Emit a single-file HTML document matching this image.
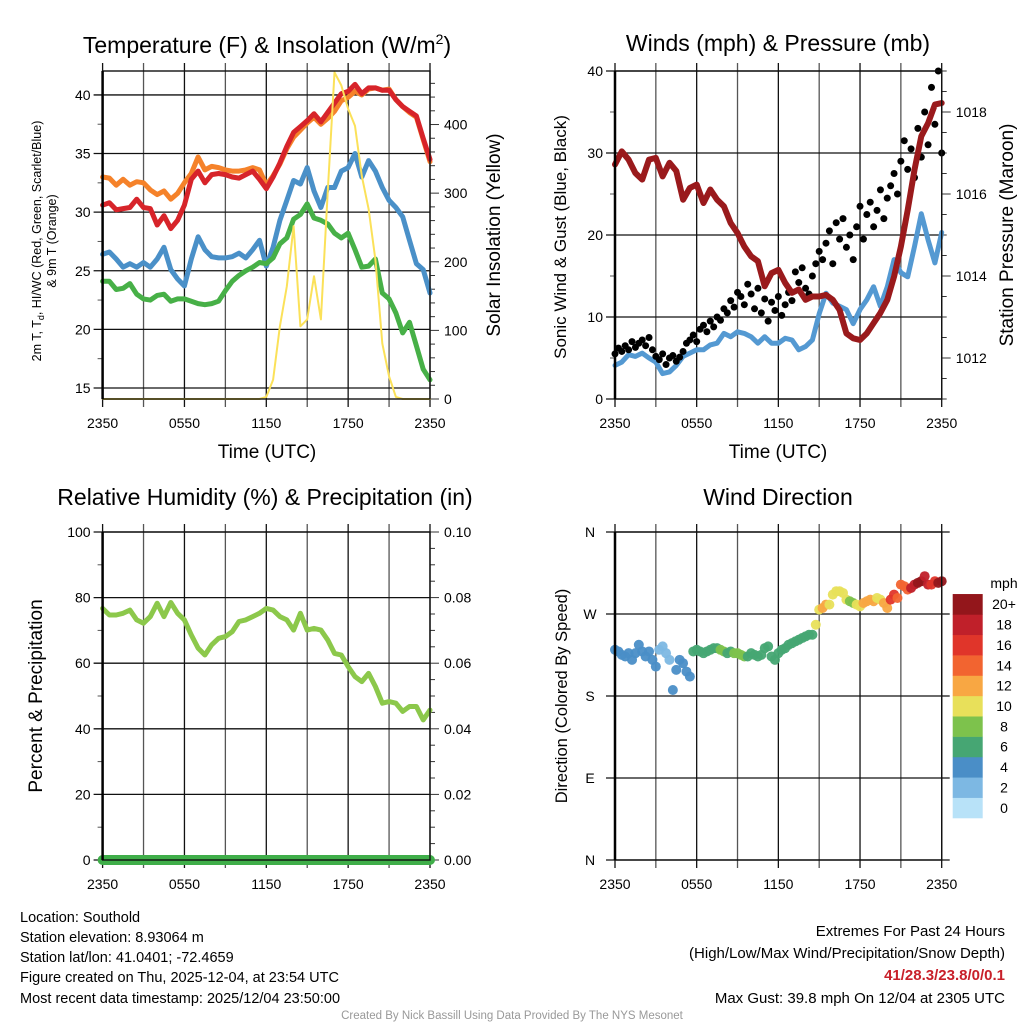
<!DOCTYPE html>
<html><head><meta charset="utf-8"><title>Mesonet Southold</title>
<style>
html,body{margin:0;padding:0;background:#fff;}
svg{display:block;font-family:"Liberation Sans",Arial,sans-serif;}
</style></head>
<body>
<svg id="chart" width="1024" height="1024" viewBox="0 0 1024 1024">
<g id="grids"></g>
<g id="marks"></g>
<g id="axes"></g>
<g font-size="23" text-anchor="middle" fill="#000">
<text x="267" y="53">Temperature (F) &amp; Insolation (W/m<tspan font-size="14" dy="-9">2</tspan><tspan dy="9">)</tspan></text>
<text x="778" y="51">Winds (mph) &amp; Pressure (mb)</text>
<text x="265" y="505">Relative Humidity (%) &amp; Precipitation (in)</text>
<text x="778" y="505">Wind Direction</text>
</g>
<g text-anchor="middle" fill="#000">
<text x="267" y="458" font-size="19">Time (UTC)</text>
<text x="778" y="458" font-size="19">Time (UTC)</text>
<text transform="translate(41,241) rotate(-90)" font-size="12.5">2m T, T<tspan font-size="9" dy="3">d</tspan><tspan dy="-3">, HI/WC (Red, Green, Scarlet/Blue)</tspan></text>
<text transform="translate(56,241) rotate(-90)" font-size="12.5">&amp; 9m T (Orange)</text>
<text transform="translate(500,235) rotate(-90)" font-size="19">Solar Insolation (Yellow)</text>
<text transform="translate(566,237) rotate(-90)" font-size="17">Sonic Wind &amp; Gust (Blue, Black)</text>
<text transform="translate(1013,235) rotate(-90)" font-size="19">Station Pressure (Maroon)</text>
<text transform="translate(42,696) rotate(-90)" font-size="19">Percent &amp; Precipitation</text>
<text transform="translate(567,696) rotate(-90)" font-size="16.5">Direction (Colored By Speed)</text>
</g>
<g id="legend"><text x="1004" y="588" font-size="14" text-anchor="middle">mph</text></g>
<g font-size="14.5" fill="#000">
<text x="20" y="922">Location: Southold</text>
<text x="20" y="942">Station elevation: 8.93064 m</text>
<text x="20" y="962">Station lat/lon: 41.0401; -72.4659</text>
<text x="20" y="982">Figure created on Thu, 2025-12-04, at 23:54 UTC</text>
<text x="20" y="1003">Most recent data timestamp: 2025/12/04 23:50:00</text>
</g>
<g font-size="15" text-anchor="end" fill="#000">
<text x="1005" y="936">Extremes For Past 24 Hours</text>
<text x="1005" y="958">(High/Low/Max Wind/Precipitation/Snow Depth)</text>
<text x="1005" y="980" fill="#c8202a" font-weight="bold">41/28.3/23.8/0/0.1</text>
<text x="1005" y="1003">Max Gust: 39.8 mph On 12/04 at 2305 UTC</text>
</g>
<text x="512" y="1019" font-size="11.5" fill="#999" text-anchor="middle">Created By Nick Bassill Using Data Provided By The NYS Mesonet</text>
</svg>
<script>
const timeLabels=["2350","0550","1150","1750","2350"];
const tempT=[30.6,30.8,30.2,30.3,30.4,31.1,30.4,30.3,28.9,29.7,28.6,29.3,30.6,32.8,33.5,32.5,33.2,33.3,33.2,33.0,32.9,33.2,33.5,32.8,32.0,33.0,34.2,35.6,36.8,37.3,37.8,38.4,37.7,38.5,39.3,40.1,40.3,40.9,40.1,40.6,40.6,40.4,40.4,39.6,39.0,38.6,38.2,36.3,34.5];
const temp9m=[33.0,32.9,32.3,32.8,32.3,32.6,32.5,31.9,31.5,31.8,31.1,31.6,32.5,33.3,34.7,33.6,33.9,33.8,33.6,33.5,33.5,33.6,33.8,33.6,32.3,33.1,34.1,35.4,36.4,37.0,37.6,38.1,37.5,38.0,38.6,39.5,39.8,40.3,40.0,40.5,40.6,40.4,40.5,39.6,39.0,38.5,38.1,36.2,34.3];
const tempWC=[26.4,26.6,26.0,25.3,25.6,25.3,25.7,25.3,26.0,27.0,25.1,24.3,23.7,26.0,27.9,26.8,26.2,26.1,26.1,26.2,26.5,26.1,26.8,27.6,25.4,27.0,29.3,31.0,32.7,32.4,33.8,31.8,30.4,32.1,32.1,33.5,33.8,35.0,33.0,34.4,33.5,32.1,31.0,30.4,29.6,27.6,25.6,25.1,23.1];
const tempTd=[24.1,24.1,23.4,23.5,23.9,23.0,22.6,22.5,22.9,23.0,22.4,22.6,22.6,22.4,22.2,22.1,22.2,22.4,23.3,24.1,24.6,25.0,25.3,25.7,25.6,26.1,27.3,27.8,29.4,29.8,30.7,29.5,29.3,29.0,28.2,27.8,28.2,26.8,25.3,25.4,26.0,23.1,22.6,21.4,19.7,20.6,18.6,16.6,15.7];
const solar=[0,0,0,0,0,0,0,0,0,0,0,0,0,0,0,0,0,0,0,0,0,0,0,0,3,28,106,164,252,106,116,179,116,301,476,457,423,398,325,277,203,81,33,3,0,0,0,0,0];
const pressure=[1016.72,1017.04,1016.84,1016.51,1016.35,1016.84,1016.88,1016.43,1016.76,1016.56,1015.86,1016.15,1016.23,1015.78,1016.11,1015.86,1015.70,1015.29,1015.05,1014.72,1014.48,1014.36,1013.75,1014.07,1014.15,1013.83,1013.59,1013.67,1013.42,1013.50,1013.50,1013.54,1013.42,1013.17,1012.60,1012.48,1012.44,1012.60,1012.85,1013.10,1013.42,1013.99,1014.72,1015.61,1016.59,1017.41,1017.73,1018.18,1018.22];
const wind=[4.1,4.5,5.4,5.2,5.6,5.0,4.5,3.1,3.3,4.1,5.2,5.6,6.0,6.0,6.6,6.8,8.0,7.6,8.2,8.0,7.6,6.8,7.6,6.8,6.8,7.4,7.2,6.0,6.4,7.2,10.4,12.9,11.7,11.3,10.9,9.2,10.9,12.1,13.7,11.3,13.7,17.0,15.4,14.9,18.6,22.6,19.4,16.6,20.3];
const gust=[5.5,6.2,5.8,6.5,6.0,7.0,6.3,6.8,7.2,6.5,7.5,6.0,5.2,4.8,5.5,4.2,5.0,5.3,4.6,5.1,5.8,6.8,7.2,7.8,7.0,8.5,9.0,8.2,9.5,8.8,10.0,9.6,11.0,10.5,12.0,11.2,13.0,12.5,11.5,14.0,12.8,11.0,13.5,10.5,12.2,9.5,11.8,10.8,12.5,10.2,11.5,13.0,12.0,15.5,14.2,16.0,13.5,12.8,15.0,16.5,18.0,17.0,19.0,20.5,16.5,21.5,19.5,22.0,18.5,20.0,17.0,21.0,23.5,19.5,22.5,24.0,21.0,23.0,25.5,22.0,24.5,26.0,27.5,25.0,29.0,31.5,28.0,30.5,27.0,33.0,29.5,35.0,31.0,38.0,33.5,40.0,30.0];
const rh=[76.7,74.7,74.7,75.2,76.2,73.2,72.2,74.2,78.3,74.2,78.5,75.2,73.2,68.6,64.6,62.5,65.6,67.6,68.1,69.6,72.7,73.2,74.2,75.2,76.7,76.2,74.2,73.2,70.1,75.2,70.1,70.6,70.1,67.1,63.0,62.5,59.0,55.9,54.4,56.9,52.9,47.8,48.3,47.8,45.3,46.8,46.8,42.7,45.7];
const precip=[0,0,0,0,0,0,0,0,0,0,0,0,0,0,0,0,0,0,0,0,0,0,0,0,0,0,0,0,0,0,0,0,0,0,0,0,0,0,0,0,0,0,0,0,0,0,0,0,0];
const direction=[230.7,228.9,225.2,223.4,227.0,219.7,227.0,236.2,228.9,223.4,228.9,219.7,212.3,230.7,234.4,227.0,219.7,186.6,208.7,219.7,216.0,206.8,201.3,228.9,230.7,228.9,227.0,228.9,230.7,232.5,232.5,230.7,228.9,227.0,228.9,227.0,227.0,225.2,223.4,223.4,227.0,225.2,223.4,225.2,232.5,234.4,223.4,219.7,227.0,230.7,232.5,236.2,238.0,239.9,241.7,243.6,245.4,247.2,247.2,258.2,274.8,276.6,280.3,280.3,291.3,295.0,295.0,293.1,285.8,284.0,282.1,280.3,278.4,282.1,284.0,285.8,284.0,287.6,285.8,282.1,276.6,285.8,291.3,287.6,302.3,300.5,296.8,298.6,302.3,304.2,306.0,311.5,302.3,302.3,306.0,304.2,306.0];
const speedLabels=["0","2","4","6","8","10","12","14","16","18","20+"];
const speedColors=["#b8e2f8","#7db8e3","#4a8ec7","#46a673","#7dc24c","#e8e05a","#f8a743","#f26430","#e0352a","#c0202a","#93161b"];

const NS="http://www.w3.org/2000/svg";
function mk(tag,attrs,parent){const e=document.createElementNS(NS,tag);for(const k in attrs)e.setAttribute(k,attrs[k]);parent.appendChild(e);return e;}
const G=document.getElementById('grids'),M=document.getElementById('marks'),A=document.getElementById('axes'),L=document.getElementById('legend');
function lin(d0,d1,r0,r1){return v=>r0+(v-d0)/(d1-d0)*(r1-r0);}

const panels=[
 {x0:102.6,x1:430,y0:71,y1:399,name:'temp'},
 {x0:615,x1:941.7,y0:71,y1:399,name:'wind'},
 {x0:102.6,x1:430,y0:532,y1:860,name:'rh'},
 {x0:615,x1:941.7,y0:532,y1:860,name:'dir'}];

function isMajor(v,ax){const q=(v-ax.mbase)/ax.major;return Math.abs(q-Math.round(q))<1e-6;}
function frame(p,left,right){
  const g=mk('g',{},G);
  
  
  for(let k=0;k<=8;k++){const x=p.x0+(p.x1-p.x0)*k/8;
    const l=mk('line',{x1:x,x2:x,y1:p.y0-8,y2:p.y1+8,stroke:k%2?'#555':'#111','stroke-width':1.3},g);
    }
  const ly=lin(left.min,left.max,p.y1,p.y0);
  for(let v=left.tmin;v<=left.max+1e-9;v+=left.minor){const y=ly(v);const major=isMajor(v,left);
    if(major){const l=mk('line',{x1:p.x0-9,x2:right?p.x1:p.x1+8,y1:y,y2:y,stroke:'#111','stroke-width':1.3},g);}
    else{mk('line',{x1:p.x0-5,x2:p.x0,y1:y,y2:y,stroke:'#555','stroke-width':1},g);}
    if(major){const t=mk('text',{x:left.lx||p.x0-12,y:y+5,'font-size':14,'text-anchor':left.anchor||'end'},A);t.textContent=left.fmt(v);}
  }
  if(right){const ry=lin(right.min,right.max,p.y1,p.y0);
    for(let v=right.tmin;v<=right.max+1e-9;v+=right.minor){const y=ry(v);const major=isMajor(v,right);
      mk('line',{x1:p.x1,x2:p.x1+(major?9:5),y1:y,y2:y,stroke:'#333','stroke-width':1},g);
      if(major){const t=mk('text',{x:p.x1+14,y:y+5,'font-size':14},A);t.textContent=right.fmt(v);}}}
  mk('rect',{x:p.x0,y:p.y0,width:p.x1-p.x0,height:p.y1-p.y0,fill:'none',stroke:'#111','stroke-width':1.4},A);
  mk('line',{x1:p.x0,x2:p.x0,y1:p.y0,y2:p.y1,stroke:'#000','stroke-width':2.5},A);
  timeLabels.forEach((s,k)=>{const t=mk('text',{x:p.x0+(p.x1-p.x0)*k/4,y:p.y1+29,'font-size':14,'text-anchor':'middle'},A);t.textContent=s;
    });
}
function xs(p,n){return i=>p.x0+(p.x1-p.x0)*i/(n-1);}
function line(arr,p,sy,color,w,name){const sx=xs(p,arr.length);
  const d=arr.map((v,i)=>(i?'L':'M')+sx(i).toFixed(1)+','+sy(v).toFixed(1)).join('');
  const e=mk('path',{d:d,fill:'none',stroke:color,'stroke-width':w,'stroke-linejoin':'round','stroke-linecap':'round'},M);
  }

// Temperature panel
const P1=panels[0];
frame(P1,{min:14.06,max:42.04,tmin:15,mbase:15,major:5,minor:2.5,fmt:v=>String(v)},{min:0,max:478,tmin:0,mbase:0,major:100,minor:20,fmt:v=>String(v)});
const ty=lin(14.06,42.04,P1.y1,P1.y0), sy=lin(0,478,P1.y1,P1.y0);
line(temp9m,P1,ty,'#f5822a',5,'temp-9m-line');
line(tempT,P1,ty,'#d7242a',5,'temp-2m-line');
line(tempWC,P1,ty,'#4a90c8',5,'windchill-line');
line(tempTd,P1,ty,'#47b047',5,'dewpoint-line');
line(solar,P1,sy,'#fbe159',2,'solar-line');

// Winds panel
const P2=panels[1];
frame(P2,{min:0,max:40,tmin:0,mbase:0,major:10,minor:5,fmt:v=>String(v)},{min:1011.0,max:1019.0,tmin:1011.0,mbase:1012,major:2,minor:0.5,fmt:v=>String(Math.round(v))});
const wy=lin(0,40,P2.y1,P2.y0), py=lin(1011.0,1019.0,P2.y1,P2.y0);
line(wind,P2,wy,'#5499d2',5,'sonic-wind-line');
{const sx=xs(P2,gust.length);gust.forEach((v,i)=>{const c=mk('circle',{cx:sx(i),cy:wy(v),r:3.5,fill:'#000'},M);
  });}
line(pressure,P2,py,'#9a1a1c',6,'pressure-line');

// RH panel
const P3=panels[2];
frame(P3,{min:0,max:100,tmin:0,mbase:0,major:20,minor:10,fmt:v=>String(v)},{min:0,max:0.1,tmin:0,mbase:0,major:0.02,minor:0.005,fmt:v=>v.toFixed(2)});
const hy=lin(0,100,P3.y1,P3.y0), ry2=lin(0,0.1,P3.y1,P3.y0);
line(rh,P3,hy,'#8cc84b',5,'rh-line');
line(precip,P3,ry2,'#3fae49',10,'precip-line');

// Direction panel
const P4=panels[3];
const dirLabels=['N','E','S','W','N'];
frame(P4,{min:0,max:360,tmin:0,mbase:0,major:90,minor:90,fmt:v=>dirLabels[Math.round(v/90)],lx:590,anchor:'middle'},null);
const dy=lin(0,360,P4.y1,P4.y0);
{const sx=xs(P4,direction.length);direction.forEach((v,i)=>{const spd=wind[Math.min(wind.length-1,Math.round(i*(wind.length-1)/(direction.length-1)))];
  const b=Math.min(10,Math.floor(spd/2));
  const c=mk('circle',{cx:sx(i),cy:dy(v),r:5,fill:speedColors[b],'fill-opacity':0.95},M);
  });}

// Colorbar
speedLabels.forEach((s,k)=>{const h=20.36,y=818-(k+1)*h;
  const r=mk('rect',{x:952.7,y:y,width:30,height:h+0.3,fill:speedColors[k]},L);
  
  const t=mk('text',{x:1004,y:y+h/2+5,'font-size':14,'text-anchor':'middle'},L);t.textContent=s;
  });
</script>
</body></html>
